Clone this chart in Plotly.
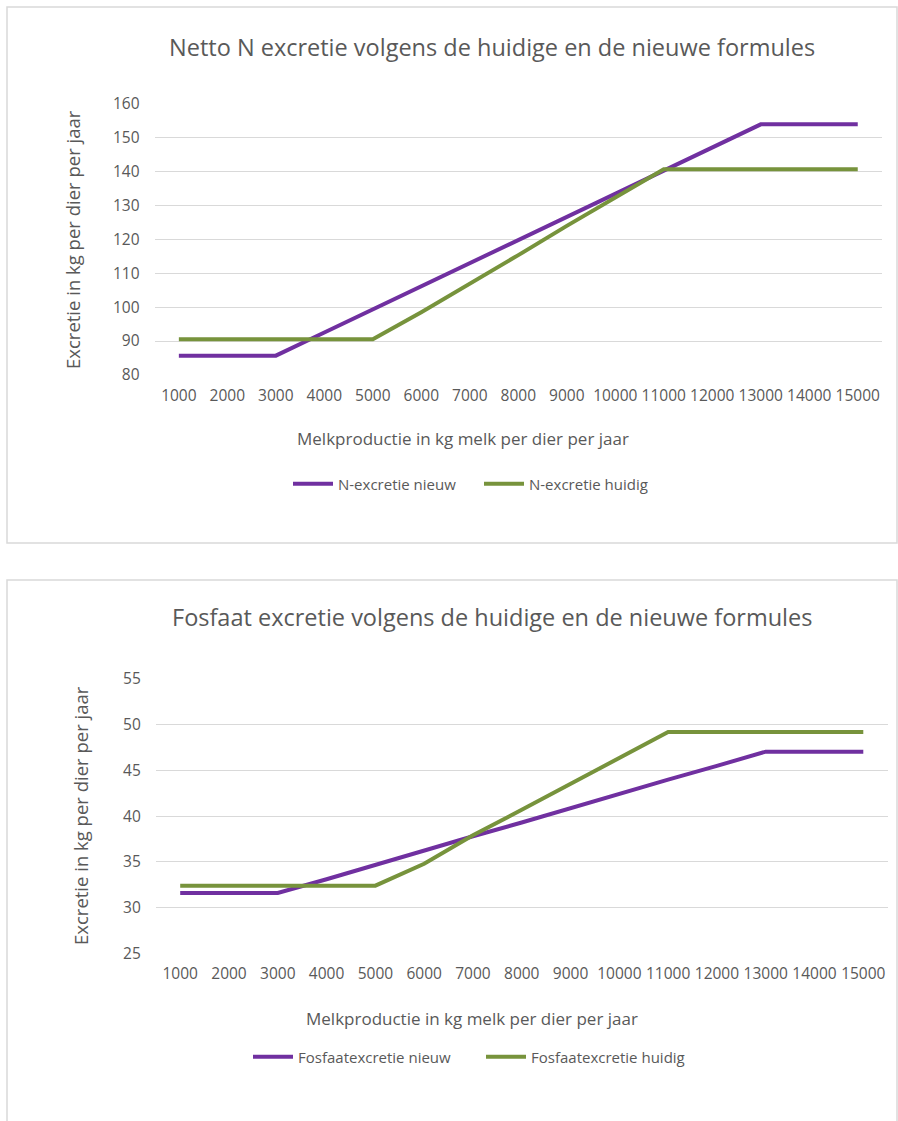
import plotly.graph_objects as go

# melkproductie categorieen (kg melk per dier per jaar)
productie = [str(v) for v in range(1000, 15001, 1000)]

# netto N excretie
n_nieuw = [85.7, 85.7, 85.7, 92.5, 99.3, 106.1, 112.9, 119.7, 126.5, 133.3, 140.2, 147.0, 153.8, 153.8, 153.8]
n_huidig = [90.5, 90.5, 90.5, 90.5, 90.5, 98.5, 106.8, 115.3, 123.9, 132.3, 140.6, 140.6, 140.6, 140.6, 140.6]

# fosfaat excretie
p_nieuw = [31.6, 31.6, 31.6, 33.1, 34.7, 36.2, 37.8, 39.3, 40.9, 42.4, 44.0, 45.5, 47.05, 47.05, 47.05]
p_huidig = [32.4, 32.4, 32.4, 32.4, 32.4, 34.8, 37.9, 40.7, 43.5, 46.3, 49.2, 49.2, 49.2, 49.2, 49.2]

W, H = 898, 1121
PURPLE = '#7030A0'
GREEN = '#77933C'
GREY = '#595959'
FONT = 'Open Sans'


def px(x):
    return x / W


def py(y):
    return 1 - y / H


fig = go.Figure()

fig.add_trace(go.Scatter(x=productie, y=n_nieuw, mode='lines', name='N-excretie nieuw',
                         line=dict(color=PURPLE, width=4), xaxis='x', yaxis='y', legend='legend'))
fig.add_trace(go.Scatter(x=productie, y=n_huidig, mode='lines', name='N-excretie huidig',
                         line=dict(color=GREEN, width=4), xaxis='x', yaxis='y', legend='legend'))
fig.add_trace(go.Scatter(x=productie, y=p_nieuw, mode='lines', name='Fosfaatexcretie nieuw',
                         line=dict(color=PURPLE, width=4), xaxis='x2', yaxis='y2', legend='legend2'))
fig.add_trace(go.Scatter(x=productie, y=p_huidig, mode='lines', name='Fosfaatexcretie huidig',
                         line=dict(color=GREEN, width=4), xaxis='x2', yaxis='y2', legend='legend2'))

xcommon = dict(type='category', range=[-0.5, 14.5], showgrid=False, showline=False, zeroline=False,
               automargin=False, fixedrange=True,
               tickfont=dict(family=FONT, size=15.5, color=GREY), ticklabelstandoff=9)
ycommon = dict(showgrid=True, gridcolor='#D9D9D9', gridwidth=1, showline=False, zeroline=False,
               automargin=False, fixedrange=True,
               tickfont=dict(family=FONT, size=15.5, color=GREY), ticklabelstandoff=14)

fig.update_layout(
    template='none',
    width=W, height=H,
    margin=dict(l=0, r=0, t=0, b=0, pad=0),
    paper_bgcolor='white', plot_bgcolor='white',
    xaxis=dict(xcommon, domain=[px(154.6), px(882)], anchor='y'),
    yaxis=dict(ycommon, domain=[py(375), py(103.3)], range=[80, 160], dtick=10, anchor='x'),
    xaxis2=dict(xcommon, domain=[px(155.8), px(887.7)], anchor='y2'),
    yaxis2=dict(ycommon, domain=[py(953.3), py(679)], range=[25, 55], dtick=5, anchor='x2'),
    legend=dict(orientation='h', x=px(288), y=py(484), xanchor='left', yanchor='middle', itemwidth=40,
                font=dict(family=FONT, size=15, color=GREY), entrywidth=136, bgcolor='rgba(0,0,0,0)'),
    legend2=dict(orientation='h', x=px(248), y=py(1057), xanchor='left', yanchor='middle', itemwidth=40,
                 font=dict(family=FONT, size=15, color=GREY), entrywidth=178, bgcolor='rgba(0,0,0,0)'),
    shapes=[
        dict(type='rect', xref='paper', yref='paper', x0=px(7), x1=px(897), y0=py(543), y1=py(7),
             line=dict(color='#D9D9D9', width=1.5)),
        dict(type='rect', xref='paper', yref='paper', x0=px(7), x1=px(897), y0=py(1135), y1=py(580),
             line=dict(color='#D9D9D9', width=1.5)),
    ],
    annotations=[
        dict(text='Netto N excretie volgens de huidige en de nieuwe formules', x=px(492), y=py(47),
             xref='paper', yref='paper', showarrow=False, xanchor='center', yanchor='middle',
             font=dict(family=FONT, size=23.5, color=GREY)),
        dict(text='Melkproductie in kg melk per dier per jaar', x=px(463), y=py(438),
             xref='paper', yref='paper', showarrow=False, xanchor='center', yanchor='middle',
             font=dict(family=FONT, size=17, color=GREY)),
        dict(text='Excretie in kg per dier per jaar', x=px(72), y=py(240), textangle=-90,
             xref='paper', yref='paper', showarrow=False, xanchor='center', yanchor='middle',
             font=dict(family=FONT, size=18.5, color=GREY)),
        dict(text='Fosfaat excretie volgens de huidige en de nieuwe formules', x=px(492), y=py(617),
             xref='paper', yref='paper', showarrow=False, xanchor='center', yanchor='middle',
             font=dict(family=FONT, size=23.5, color=GREY)),
        dict(text='Melkproductie in kg melk per dier per jaar', x=px(472), y=py(1018),
             xref='paper', yref='paper', showarrow=False, xanchor='center', yanchor='middle',
             font=dict(family=FONT, size=17, color=GREY)),
        dict(text='Excretie in kg per dier per jaar', x=px(80), y=py(816), textangle=-90,
             xref='paper', yref='paper', showarrow=False, xanchor='center', yanchor='middle',
             font=dict(family=FONT, size=18.5, color=GREY)),
    ],
)

# the page itself should have no margin, so the figure fills the window exactly
fig.write_html("out.html", config={'displayModeBar': False},
               post_script="document.body.style.margin='0';document.body.style.overflow='hidden';")
